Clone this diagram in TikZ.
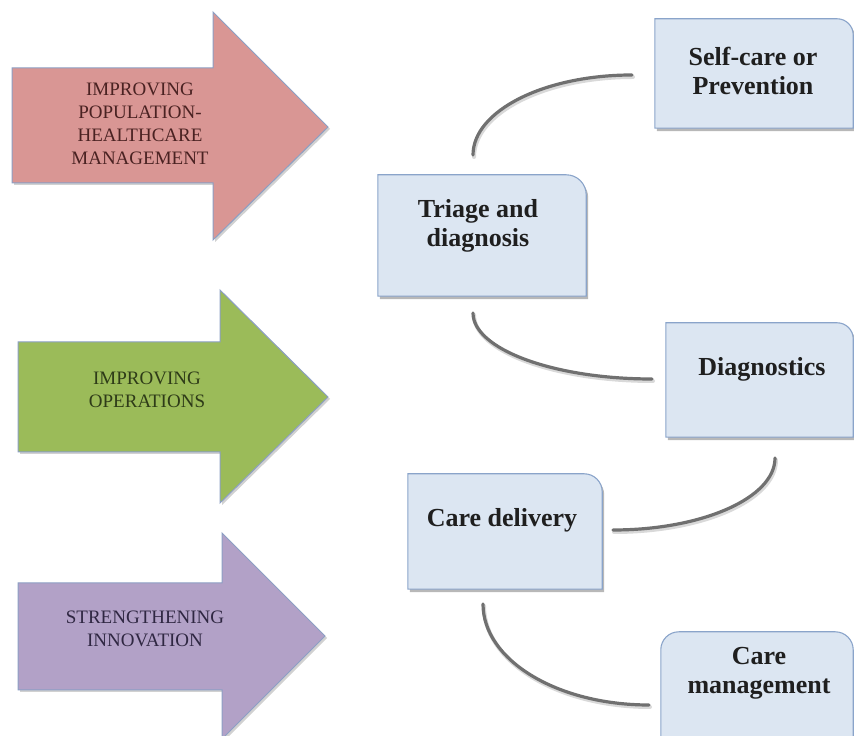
\documentclass[tikz,border=0pt]{standalone}
\usepackage{fontspec}
\setmainfont{Liberation Serif}
\usetikzlibrary{calc}
\definecolor{boxfill}{HTML}{DCE6F2}
\definecolor{boxline}{HTML}{8AA4CA}
\definecolor{arrline}{HTML}{8C9FC4}
\definecolor{redfill}{HTML}{D99694}
\definecolor{greenfill}{HTML}{9BBB59}
\definecolor{purplefill}{HTML}{B2A1C7}
\definecolor{redtext}{HTML}{4A2222}
\definecolor{greentext}{HTML}{2E3B18}
\definecolor{purpletext}{HTML}{2F2742}
\definecolor{connline}{HTML}{707070}
\definecolor{shadowc}{HTML}{B8B8B8}
\tikzset{
  boxshape/.style={draw=none, rectangle, inner sep=0pt},
  boxframe/.style={draw=boxline, line width=1.1pt, fill=boxfill},
  boxshadow/.style={fill=shadowc, draw=none},
  boxtext/.style={align=center, font=\fontsize{26}{29}\selectfont\bfseries, text=black!88, inner sep=0pt},
  arrtext/.style={align=center, font=\fontsize{19}{23}\selectfont, inner sep=0pt},
  arrframe/.style={draw=arrline, line width=1pt},
  arrshadow/.style={fill=black!18, draw=none},
  connector/.style={draw=connline, line width=3.2pt, line cap=round},
  connshadow/.style={draw=black!15, line width=4pt, line cap=round}
}
\begin{document}
\begin{tikzpicture}[x=1pt,y=1pt]
\useasboundingbox (0,0) rectangle (854,736);
% ---------- arrows ----------
% arrow 1
\fill[arrshadow] (14,551) -- (14,666) -- (215,666) -- (215,722) -- (330,607) -- (215,494) -- (215,551) -- cycle;
\draw[arrframe, fill=redfill] (12,553) -- (12,668) -- (213,668) -- (213,724) -- (328,609) -- (213,496) -- (213,553) -- cycle;
\node[arrtext, text=redtext] (a1) at (140,612) {IMPROVING\\POPULATION-\\HEALTHCARE\\MANAGEMENT};
% arrow 2
\fill[arrshadow] (20,282) -- (20,392) -- (222,392) -- (222,444) -- (330,337) -- (222,231) -- (222,282) -- cycle;
\draw[arrframe, fill=greenfill] (18,284) -- (18,394) -- (220,394) -- (220,446) -- (328,339) -- (220,233) -- (220,284) -- cycle;
\node[arrtext, text=greentext] (a2) at (147,346) {IMPROVING\\OPERATIONS};
% arrow 3
\fill[arrshadow] (20,44) -- (20,151) -- (224,151) -- (224,201) -- (327,98) -- (224,-5) -- (224,44) -- cycle;
\draw[arrframe, fill=purplefill] (18,46) -- (18,153) -- (222,153) -- (222,203) -- (325,100) -- (222,-3) -- (222,46) -- cycle;
\node[arrtext, text=purpletext] (a3) at (145,107) {STRENGTHENING\\INNOVATION};
% ---------- boxes ----------
% Self-care
\node[boxshape, minimum width=198pt, minimum height=109pt] (self) at (754,662.5) {};
\fill[boxshadow] ($(self.south west)+(2,-3)$) -- ($(self.north west)+(2,-3)$) -- ($(self.north east)+(-14,-3)$) arc[start angle=90,end angle=0,radius=16pt] -- ($(self.south east)+(2,-3)$) -- cycle;
\draw[boxframe] (self.south west) -- (self.north west) -- ([xshift=-16pt]self.north east) arc[start angle=90,end angle=0,radius=16pt] -- (self.south east) -- cycle;
\node[boxtext] (selft) at (753,665) {Self-care or\\Prevention};
% Triage
\node[boxshape, minimum width=208pt, minimum height=121pt] (tri) at (482,500.5) {};
\fill[boxshadow] ($(tri.south west)+(2,-3)$) -- ($(tri.north west)+(2,-3)$) -- ($(tri.north east)+(-18,-3)$) arc[start angle=90,end angle=0,radius=20pt] -- ($(tri.south east)+(2,-3)$) -- cycle;
\draw[boxframe] (tri.south west) -- (tri.north west) -- ([xshift=-20pt]tri.north east) arc[start angle=90,end angle=0,radius=20pt] -- (tri.south east) -- cycle;
\node[boxtext] (trit) at (478,510) {Triage and\\diagnosis};
% Diagnostics
\node[boxshape, minimum width=187pt, minimum height=114pt] (diag) at (759.5,356) {};
\fill[boxshadow] ($(diag.south west)+(2,-3)$) -- ($(diag.north west)+(2,-3)$) -- ($(diag.north east)+(-14,-3)$) arc[start angle=90,end angle=0,radius=16pt] -- ($(diag.south east)+(2,-3)$) -- cycle;
\draw[boxframe] (diag.south west) -- (diag.north west) -- ([xshift=-16pt]diag.north east) arc[start angle=90,end angle=0,radius=16pt] -- (diag.south east) -- cycle;
\node[boxtext] (diagt) at (762,367) {Diagnostics};
% Care delivery
\node[boxshape, minimum width=194pt, minimum height=115pt] (deliv) at (505,204.5) {};
\fill[boxshadow] ($(deliv.south west)+(2,-3)$) -- ($(deliv.north west)+(2,-3)$) -- ($(deliv.north east)+(-16,-3)$) arc[start angle=90,end angle=0,radius=18pt] -- ($(deliv.south east)+(2,-3)$) -- cycle;
\draw[boxframe] (deliv.south west) -- (deliv.north west) -- ([xshift=-18pt]deliv.north east) arc[start angle=90,end angle=0,radius=18pt] -- (deliv.south east) -- cycle;
\node[boxtext] (delivt) at (502,216) {Care delivery};
% Care management
\node[boxshape, minimum width=192pt, minimum height=120pt] (mgmt) at (757,44) {};
\draw[boxframe] (mgmt.south west) -- ([yshift=-18pt]mgmt.north west) arc[start angle=180,end angle=90,radius=18pt] -- ([xshift=-18pt]mgmt.north east) arc[start angle=90,end angle=0,radius=18pt] -- (mgmt.south east) -- cycle;
\node[boxtext] (mgmtt) at (759,63) {Care\\management};
% ---------- connectors ----------
\coordinate (c1a) at (473,581);
\coordinate (c1b) at (632,661);
\coordinate (c2a) at (473,423);
\coordinate (c2b) at (652,357);
\coordinate (c3a) at (775,278);
\coordinate (c3b) at (613,206);
\coordinate (c4a) at (483,132);
\coordinate (c4b) at (649,31);
\foreach \s/\e/\ca/\cb in {c1a/c1b/{(473,625)}/{(544,661)}, c2a/c2b/{(473,387)}/{(553,357)}, c3a/c3b/{(775,238)}/{(702,206)}, c4a/c4b/{(483,76)}/{(557,31)}}{
  \draw[connshadow, transform canvas={shift={(1pt,-2pt)}}] (\s) .. controls \ca and \cb .. (\e);
  \draw[connector] (\s) .. controls \ca and \cb .. (\e);
}
\end{tikzpicture}
\end{document}
